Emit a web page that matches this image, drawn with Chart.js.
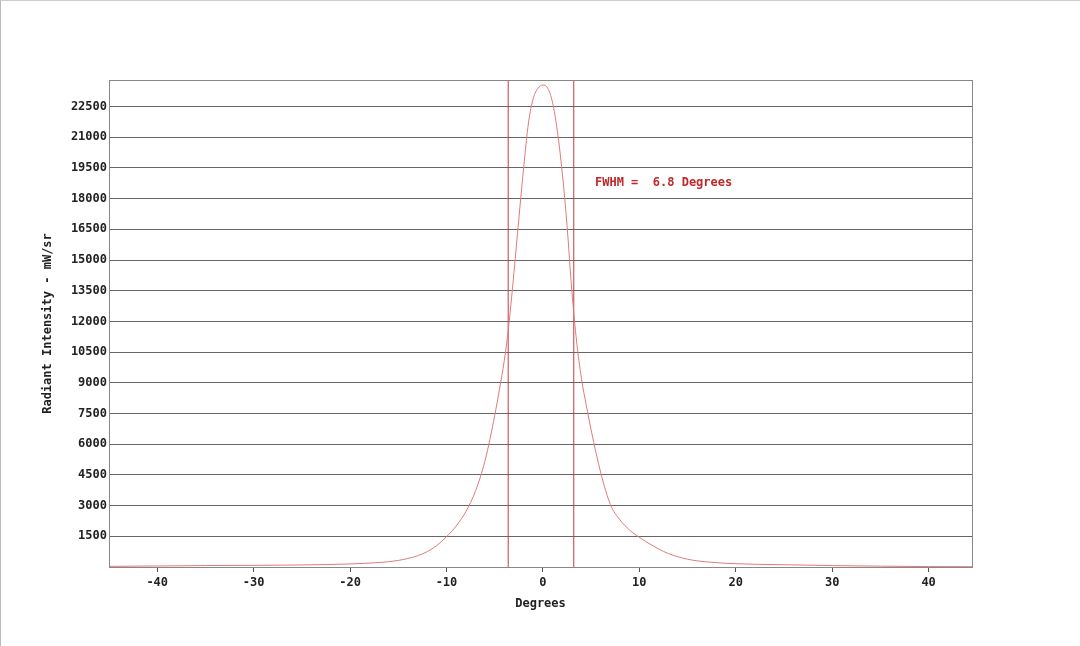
<!DOCTYPE html>
<html><head><meta charset="utf-8">
<script src="https://cdn.jsdelivr.net/npm/chart.js@4"></script>
<style>html,body{margin:0;padding:0;background:#fff}#w{width:1080px;height:646px;position:relative;box-sizing:border-box;border-left:1px solid #bbb;border-top:1px solid #ccc}</style>
</head><body><div id="w"><canvas id="c" width="1080" height="646"></canvas></div>
<script>
const degrees = [-45,-40,-35,-30,-25,-20,-17,-15,-13,-12,-11,-10,-9,-8,-7,-6,-5,-4.5,-4,-3.5,-3,-2.5,-2,-1.5,-1,-0.5,0,0.5,1,1.5,2,2.5,3,3.5,4,4.5,5,6,7,8,9,10,11,12,13,15,17,20,25,30,35,40,44.5];
const intensity = [30,50,70,80,100,150,220,320,550,750,1050,1480,2000,2700,3700,5200,7400,8700,10100,12000,14400,17000,19500,21700,22900,23400,23550,23400,22700,21300,19300,16700,13500,11000,9200,7900,6700,4600,3050,2300,1800,1450,1150,880,660,380,250,160,110,70,40,20,15];
const fwhmLines = [-3.6, 3.2];
const yTicks = [1500,3000,4500,6000,7500,9000,10500,12000,13500,15000,16500,18000,19500,21000,22500];
const xTicks = [-40,-30,-20,-10,0,10,20,30,40];
const annotation = "FWHM =  6.8 Degrees";
const mono = "'DejaVu Sans Mono', monospace";
const ds = [{data: degrees.map((x,i)=>({x, y:intensity[i]})), borderColor:'#e07a7a', borderWidth:1, pointRadius:0, cubicInterpolationMode:'monotone', fill:false}];
fwhmLines.forEach(v=>ds.push({data:[{x:v,y:0},{x:v,y:23800}], borderColor:'#c83c3c', borderWidth:1, pointRadius:0}));
const deco = {id:'deco', afterDraw(ch){const {ctx,chartArea:a,scales:s}=ch;ctx.save();ctx.strokeStyle='#888';ctx.lineWidth=1;ctx.strokeRect(a.left+0.5,a.top+0.5,a.right-a.left,a.bottom-a.top);
ctx.fillStyle='#c0282a';ctx.font="bold 12px "+mono;ctx.textBaseline='middle';ctx.fillText(annotation,s.x.getPixelForValue(5.4),s.y.getPixelForValue(18770));ctx.restore();}};
new Chart(document.getElementById('c'),{type:'line',data:{datasets:ds},plugins:[deco],
options:{responsive:false,animation:false,layout:{padding:{top:79,right:109,left:36,bottom:32}},
plugins:{legend:{display:false},tooltip:{enabled:false}},
scales:{
x:{type:'linear',min:-45,max:44.5,afterBuildTicks:sc=>{sc.ticks=xTicks.map(v=>({value:v}))},afterFit:sc=>{sc.height=48},
 grid:{display:true,drawOnChartArea:false,drawTicks:true,tickLength:5,color:'#555'},border:{color:'#555'},
 ticks:{color:'#222',font:{family:mono,size:12,weight:'bold'},maxRotation:0,padding:4,callback:v=>String(v)},
 title:{display:true,text:'Degrees',color:'#222',font:{family:mono,size:12,weight:'bold'},padding:{top:4}}},
y:{min:0,max:23800,afterBuildTicks:sc=>{sc.ticks=yTicks.map(v=>({value:v}))},afterFit:sc=>{sc.width=72},
 grid:{color:'#666',drawTicks:false},border:{color:'#555'},
 ticks:{color:'#222',font:{family:mono,size:12,weight:'bold'},padding:2,callback:v=>String(v)},
 title:{display:true,text:'Radiant Intensity - mW/sr',color:'#222',font:{family:mono,size:12,weight:'bold'},padding:{bottom:6}}}
}}});
</script></body></html>
